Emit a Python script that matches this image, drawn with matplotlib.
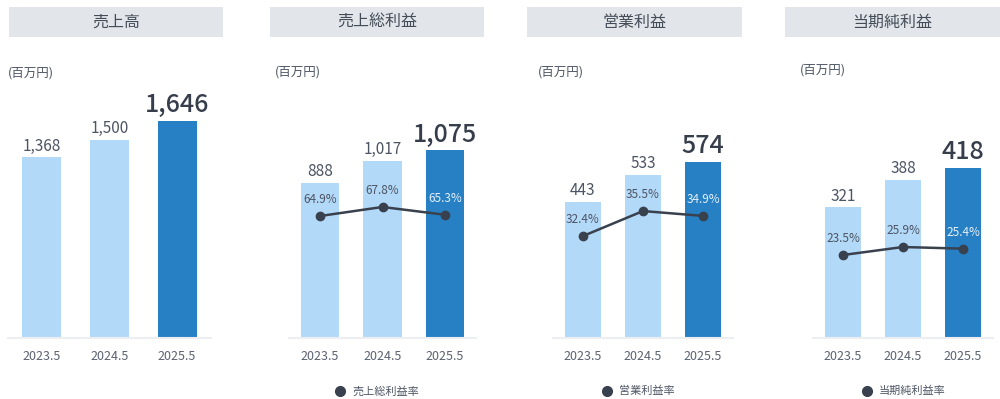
import numpy as np
import matplotlib
matplotlib.use("Agg")
import matplotlib.pyplot as plt
from matplotlib.lines import Line2D
from matplotlib.patches import Rectangle

plt.rcParams['font.family'] = ['Noto Sans CJK JP', 'DejaVu Sans']

# データ
years = ["2023.5", "2024.5", "2025.5"]
titles = ["売上高", "売上総利益", "営業利益", "当期純利益"]
sales = [1368, 1500, 1646]
gross = [888, 1017, 1075]
op_profit = [443, 533, 574]
net_profit = [321, 388, 418]
gross_rate = [64.9, 67.8, 65.3]
op_rate = [32.4, 35.5, 34.9]
net_rate = [23.5, 25.9, 25.4]
rate_names = [None, "売上総利益率", "営業利益率", "当期純利益率"]

values = [sales, gross, op_profit, net_profit]
rates = [None, gross_rate, op_rate, net_rate]

# レイアウト (ピクセル)
W, H = 1000, 399
BASE = 338
AX_H = 278
ax_x = [(8, 211), (289, 476), (553, 733), (813, 993)]
bar_w = [0.58, 0.61, 0.6, 0.6]
ymax = [2106, 1593, 907, 683]
rate_lim = [None, (25.55, 115.2), (19.75, 54.24), (-1.4, 82.0)]
title_box = [(9, 223), (270, 484), (527, 742), (785, 1000)]
unit_pos = [(8, 73), (275, 72), (538, 72), (800, 70)]
legend_x = [None, 340, 607, 867]

LIGHT = "#b3d9f8"
DARK = "#2680c3"
LINE = "#39414f"
TXT = "#4d5564"

fig = plt.figure(figsize=(10, 3.99), dpi=100)

for i in range(4):
    x0, x1 = ax_x[i]
    ax = fig.add_axes([x0 / W, (H - BASE) / H, (x1 - x0) / W, AX_H / H])
    x = np.arange(3)
    ax.bar(x, values[i], width=bar_w[i], color=[LIGHT, LIGHT, DARK], zorder=2)
    ax.set_xlim(-0.5, 2.5)
    ax.set_ylim(0, ymax[i])
    for s in ["top", "right", "left"]:
        ax.spines[s].set_visible(False)
    ax.spines["bottom"].set_color("#eceef2")
    ax.spines["bottom"].set_linewidth(1.5)
    ax.set_yticks([])
    ax.set_xticks(x)
    ax.set_xticklabels(years, fontsize=9, color="#5a6170")
    ax.tick_params(axis="x", length=0, pad=9)

    for j, v in enumerate(values[i]):
        if j == 2:
            ax.annotate("{:,}".format(v), (j, v), xytext=(0, 2), textcoords="offset points",
                        ha="center", va="bottom", fontsize=18, fontweight="medium", color="#363e4c")
        else:
            ax.annotate("{:,}".format(v), (j, v), xytext=(0, 2), textcoords="offset points",
                        ha="center", va="bottom", fontsize=11, color=TXT)

    if rates[i] is not None:
        ax2 = ax.twinx()
        ax2.set_ylim(*rate_lim[i])
        ax2.axis("off")
        ax2.plot(x, rates[i], color=LINE, lw=1.8, marker="o", ms=6, zorder=3)
        for j, r in enumerate(rates[i]):
            ax2.annotate("{:.1f}%".format(r), (j, r), xytext=(0, 7), textcoords="offset points",
                         ha="center", va="bottom", fontsize=8.5,
                         color="#e6f0fa" if j == 2 else TXT)
        # 凡例
        lx = legend_x[i]
        fig.add_artist(Line2D([lx / W], [1 - 391 / H], marker="o", ms=7, color=LINE, ls=""))
        fig.text((lx + 12) / W, 1 - 391 / H, rate_names[i], fontsize=8, color=TXT, va="center")

    # タイトル
    bx0, bx1 = title_box[i]
    fig.add_artist(Rectangle((bx0 / W, 1 - 37 / H), (bx1 - bx0) / W, 30 / H,
                             transform=fig.transFigure, color="#e2e6ea", lw=0))
    fig.text((bx0 + bx1) / 2 / W, 1 - 22 / H, titles[i], ha="center", va="center",
             fontsize=11.5, color="#444c58")
    ux, uy = unit_pos[i]
    fig.text(ux / W, 1 - uy / H, "(百万円)", ha="left", va="center", fontsize=9, color=TXT)

plt.savefig("out.png", dpi=100)
